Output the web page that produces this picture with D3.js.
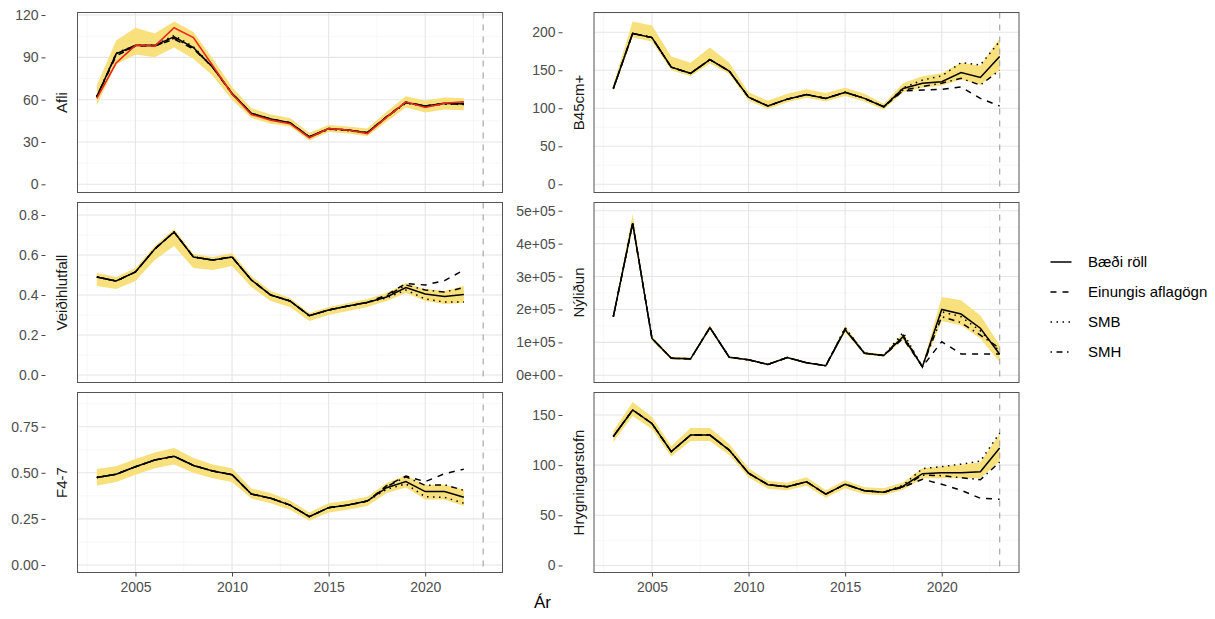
<!DOCTYPE html>
<html>
<head>
<meta charset="utf-8">
<script src="https://cdn.jsdelivr.net/npm/d3@7"></script>
<style>
  body { margin: 0; background: #fff; }
  svg { display: block; }
  text { font-family: "Liberation Sans", Arial, Helvetica, sans-serif; }
</style>
</head>
<body>
<svg id="chart" width="1215" height="619"></svg>
<script>
// ---- years ----
const yearsA = [2003, 2004, 2005, 2006, 2007, 2008, 2009, 2010, 2011, 2012, 2013, 2014, 2015, 2016, 2017, 2018, 2019, 2020, 2021, 2022];
const yearsB = [2003, 2004, 2005, 2006, 2007, 2008, 2009, 2010, 2011, 2012, 2013, 2014, 2015, 2016, 2017, 2018, 2019, 2020, 2021, 2022, 2023];

// ---- Afli (catch) ----
const afliBaedi    = [62, 92.5, 98.5, 98.5, 104.5, 97, 83, 64.5, 50.3, 46.3, 43.7, 33.7, 39.5, 38.5, 36.6, 47.9, 58, 55.5, 57.5, 57];
const afliEinungis = [62, 91, 98, 98, 103, 96, 83, 64.5, 50.3, 46.3, 43.7, 33.7, 39.5, 38.5, 36.6, 48, 58.5, 55.5, 57.5, 57.5];
const afliSMB      = [62, 93, 98.5, 98.5, 105.5, 97.5, 83, 64.5, 50, 46, 43.5, 33.5, 39, 38, 36.5, 47.5, 57.5, 55, 57, 56.5];
const afliSMH      = [62.5, 92, 98, 98, 103.5, 96.5, 83, 64, 50, 46, 43.5, 33.5, 39, 38.5, 36.5, 47.5, 58, 55.5, 57, 57];
const afliLo       = [56, 85, 92, 90, 97, 89, 77, 60, 47, 43, 41, 31, 37, 36, 34, 44.5, 54.5, 51, 53, 52.5];
const afliHi       = [70, 102, 111, 107, 115.5, 108, 89, 69, 54, 49.5, 47, 36.5, 42, 41, 39.5, 51.5, 62.5, 59.5, 61.5, 61];
const afliObserved = [61, 86, 98.5, 98, 111, 104, 84, 64, 49.5, 45.5, 43, 33, 39.5, 38.5, 36, 47.5, 58.5, 54.5, 57.5, 58.5];

// ---- B45cm+ ----
const b45Baedi    = [126, 198.5, 193, 154, 146, 164, 149, 114.5, 103, 112, 118, 113, 121, 113, 102, 126, 133, 135, 147, 140.5, 168];
const b45Einungis = [126, 198.5, 193, 154, 146, 164, 149, 114.5, 103, 112, 118, 113, 121, 113, 102, 123, 124, 125, 128, 113, 103];
const b45SMB      = [126, 198.5, 193, 154, 146, 164, 149, 114.5, 103, 112, 118, 113, 121, 113, 102, 127, 137, 142.5, 160, 157, 188];
const b45SMH      = [126, 198.5, 193, 154, 146, 164, 149, 114.5, 103, 112, 118, 113, 121, 113, 102, 124, 128.5, 133, 139.5, 130.5, 150];
const b45Lo       = [123, 193, 188, 150, 142, 159, 145, 110, 99, 108, 114, 109, 116, 109, 98, 121, 127, 130, 138, 131, 150];
const b45Hi       = [131, 214, 209, 168, 160, 180, 160, 121, 110, 119, 125, 120, 127, 119, 106, 133, 142, 146, 160, 156, 192];

// ---- Veiðihlutfall ----
const vhBaedi    = [0.49, 0.47, 0.515, 0.63, 0.715, 0.59, 0.575, 0.59, 0.475, 0.40, 0.37, 0.297, 0.325, 0.345, 0.363, 0.39, 0.437, 0.405, 0.393, 0.403];
const vhEinungis = [0.49, 0.47, 0.515, 0.63, 0.715, 0.59, 0.575, 0.59, 0.475, 0.40, 0.37, 0.297, 0.325, 0.345, 0.363, 0.40, 0.458, 0.45, 0.472, 0.525];
const vhSMB      = [0.49, 0.47, 0.515, 0.63, 0.715, 0.59, 0.575, 0.59, 0.475, 0.40, 0.37, 0.297, 0.325, 0.345, 0.363, 0.385, 0.425, 0.38, 0.365, 0.365];
const vhSMH      = [0.49, 0.47, 0.515, 0.63, 0.715, 0.59, 0.575, 0.59, 0.475, 0.40, 0.37, 0.297, 0.325, 0.345, 0.363, 0.395, 0.45, 0.425, 0.415, 0.437];
const vhLo       = [0.445, 0.43, 0.47, 0.575, 0.645, 0.535, 0.525, 0.545, 0.44, 0.37, 0.34, 0.27, 0.30, 0.32, 0.34, 0.37, 0.41, 0.37, 0.355, 0.36];
const vhHi       = [0.51, 0.49, 0.535, 0.645, 0.73, 0.605, 0.59, 0.61, 0.495, 0.42, 0.385, 0.31, 0.34, 0.36, 0.38, 0.41, 0.46, 0.43, 0.42, 0.445];

// ---- Nýliðun (recruitment) ----
const nyBaedi    = [178e3, 462e3, 112e3, 52e3, 50e3, 145e3, 55e3, 47e3, 33e3, 54e3, 38e3, 29e3, 138e3, 67e3, 60e3, 117e3, 26e3, 200e3, 186e3, 143e3, 64e3];
const nyEinungis = [178e3, 462e3, 112e3, 52e3, 50e3, 145e3, 55e3, 47e3, 33e3, 54e3, 38e3, 29e3, 140e3, 67e3, 60e3, 112e3, 26e3, 102e3, 65e3, 65e3, 65e3];
const nySMB      = [178e3, 462e3, 112e3, 52e3, 50e3, 145e3, 55e3, 47e3, 33e3, 54e3, 38e3, 29e3, 145e3, 67e3, 60e3, 130e3, 26e3, 193e3, 178e3, 135e3, 72e3];
const nySMH      = [178e3, 462e3, 112e3, 52e3, 50e3, 145e3, 55e3, 47e3, 33e3, 54e3, 38e3, 29e3, 142e3, 67e3, 60e3, 122e3, 26e3, 178e3, 160e3, 122e3, 82e3];
const nyLo       = [172e3, 445e3, 105e3, 48e3, 46e3, 138e3, 52e3, 44e3, 31e3, 51e3, 36e3, 27e3, 130e3, 63e3, 56e3, 108e3, 22e3, 165e3, 152e3, 112e3, 40e3];
const nyHi       = [184e3, 490e3, 118e3, 56e3, 54e3, 152e3, 58e3, 50e3, 35e3, 57e3, 40e3, 31e3, 150e3, 71e3, 64e3, 128e3, 30e3, 238e3, 228e3, 182e3, 92e3];

// ---- F4-7 ----
const fBaedi    = [0.474, 0.492, 0.533, 0.569, 0.59, 0.54, 0.51, 0.49, 0.385, 0.362, 0.325, 0.262, 0.311, 0.325, 0.347, 0.419, 0.452, 0.398, 0.398, 0.367];
const fEinungis = [0.474, 0.492, 0.533, 0.569, 0.59, 0.54, 0.51, 0.49, 0.385, 0.362, 0.325, 0.262, 0.311, 0.325, 0.347, 0.43, 0.482, 0.452, 0.495, 0.52];
const fSMB      = [0.474, 0.492, 0.533, 0.569, 0.59, 0.54, 0.51, 0.49, 0.385, 0.362, 0.325, 0.262, 0.311, 0.325, 0.347, 0.41, 0.44, 0.37, 0.367, 0.335];
const fSMH      = [0.474, 0.492, 0.533, 0.569, 0.59, 0.54, 0.51, 0.49, 0.385, 0.362, 0.325, 0.262, 0.311, 0.325, 0.347, 0.425, 0.478, 0.432, 0.435, 0.405];
const fLo       = [0.43, 0.45, 0.49, 0.525, 0.545, 0.5, 0.47, 0.45, 0.36, 0.335, 0.3, 0.24, 0.285, 0.3, 0.32, 0.39, 0.42, 0.355, 0.355, 0.32];
const fHi       = [0.52, 0.535, 0.575, 0.61, 0.635, 0.58, 0.545, 0.525, 0.415, 0.39, 0.35, 0.285, 0.335, 0.35, 0.37, 0.445, 0.485, 0.435, 0.435, 0.41];

// ---- Hrygningarstofn (spawning stock) ----
const hsBaedi    = [128.5, 155, 141.5, 113.5, 130, 130, 115, 92, 80.5, 78.5, 83.5, 71, 81, 74.5, 73, 79, 91.5, 92.5, 92.5, 93.5, 117];
const hsEinungis = [128.5, 155, 141.5, 113.5, 130, 130, 115, 92, 80.5, 78.5, 83.5, 71, 81, 74.5, 73, 78, 86, 81, 75, 67, 66];
const hsSMB      = [128.5, 155, 141.5, 113.5, 130, 130, 115, 92, 80.5, 78.5, 83.5, 71, 81, 74.5, 73, 80, 96.5, 98.5, 101, 104, 132];
const hsSMH      = [128.5, 155, 141.5, 113.5, 130, 130, 115, 92, 80.5, 78.5, 83.5, 71, 81, 74.5, 73, 78.5, 90, 89.5, 87.5, 85.5, 103];
const hsLo       = [123, 149, 136, 108.5, 124, 124, 110, 88, 76.5, 75, 79.5, 67.5, 77, 71, 70, 75.5, 87, 87, 87, 87, 104];
const hsHi       = [134, 163, 148, 119, 137, 137, 121, 97, 84.5, 82.5, 88, 75, 85, 78, 77, 83, 97, 99, 100.5, 103, 131];

// ---- tick values and labels ----
const xTicks = [2005, 2010, 2015, 2020];
const xTickLabels = ["2005", "2010", "2015", "2020"];
const afliTicks = [0, 30, 60, 90, 120];
const afliTickLabels = ["0", "30", "60", "90", "120"];
const b45Ticks = [0, 50, 100, 150, 200];
const b45TickLabels = ["0", "50", "100", "150", "200"];
const vhTicks = [0, 0.2, 0.4, 0.6, 0.8];
const vhTickLabels = ["0.0", "0.2", "0.4", "0.6", "0.8"];
const nyTicks = [0, 1e5, 2e5, 3e5, 4e5, 5e5];
const nyTickLabels = ["0e+00", "1e+05", "2e+05", "3e+05", "4e+05", "5e+05"];
const fTicks = [0, 0.25, 0.5, 0.75];
const fTickLabels = ["0.00", "0.25", "0.50", "0.75"];
const hsTicks = [0, 50, 100, 150];
const hsTickLabels = ["0", "50", "100", "150"];

const seriesNames = ["Bæði röll", "Einungis aflagögn", "SMB", "SMH"];
const refYear = 2023;

// ---- layout ----
const svg = d3.select("#chart");
const cols = [{ x0: 77.5, x1: 502.5, axisX: 45.5 }, { x0: 594, x1: 1019, axisX: 562.5 }];
const rows = [{ y0: 12.5, y1: 192.5 }, { y0: 202.5, y1: 382.5 }, { y0: 392.5, y1: 572.5 }];
const xDomain = [2002, 2024];

const lw = 1.5;
const dashOf = {
  "Bæði röll": null,
  "Einungis aflagögn": [4 * lw, 4 * lw].join(","),
  "SMB": [lw, 3 * lw].join(","),
  "SMH": [lw, 3 * lw, 4 * lw, 3 * lw].join(",")
};
const ribbonFill = "#f8e07c";
const gridMajor = "#e6e6e6";
const gridMinor = "#f1f1f1";
const borderCol = "#555";

const panels = [
  { col: 0, row: 0, label: "Afli", years: yearsA, lo: afliLo, hi: afliHi,
    lines: [afliBaedi, afliEinungis, afliSMB, afliSMH], observed: afliObserved,
    domain: [-5.8, 121.8], ticks: afliTicks, tickLabels: afliTickLabels },
  { col: 0, row: 1, label: "Veiðihlutfall", years: yearsA, lo: vhLo, hi: vhHi,
    lines: [vhBaedi, vhEinungis, vhSMB, vhSMH],
    domain: [-0.0375, 0.8625], ticks: vhTicks, tickLabels: vhTickLabels },
  { col: 0, row: 2, label: "F4-7", years: yearsA, lo: fLo, hi: fHi,
    lines: [fBaedi, fEinungis, fSMB, fSMH],
    domain: [-0.0407, 0.9355], ticks: fTicks, tickLabels: fTickLabels },
  { col: 1, row: 0, label: "B45cm+", years: yearsB, lo: b45Lo, hi: b45Hi,
    lines: [b45Baedi, b45Einungis, b45SMB, b45SMH],
    domain: [-10.8, 226], ticks: b45Ticks, tickLabels: b45TickLabels },
  { col: 1, row: 1, label: "Nýliðun", years: yearsB, lo: nyLo, hi: nyHi,
    lines: [nyBaedi, nyEinungis, nySMB, nySMH],
    domain: [-21900, 524900], ticks: nyTicks, tickLabels: nyTickLabels },
  { col: 1, row: 2, label: "Hrygningarstofn", years: yearsB, lo: hsLo, hi: hsHi,
    lines: [hsBaedi, hsEinungis, hsSMB, hsSMH],
    domain: [-7, 172.4], ticks: hsTicks, tickLabels: hsTickLabels }
];

// minor breaks half-way between majors, kept inside the visible range
function minorBreaks(ticks, domain) {
  const step = ticks[1] - ticks[0];
  const out = [];
  for (let v = ticks[0] - step / 2; v <= ticks[ticks.length - 1] + step; v += step) {
    if (v > domain[0] && v < domain[1]) out.push(v);
  }
  return out;
}

const defs = svg.append("defs");

panels.forEach((p, pi) => {
  const c = cols[p.col], r = rows[p.row];
  const x = d3.scaleLinear().domain(xDomain).range([c.x0, c.x1]);
  const y = d3.scaleLinear().domain(p.domain).range([r.y1, r.y0]);
  const g = svg.append("g");

  defs.append("clipPath").attr("id", "clip" + pi)
    .append("rect").attr("x", c.x0).attr("y", r.y0)
    .attr("width", c.x1 - c.x0).attr("height", r.y1 - r.y0);

  g.append("rect").attr("x", c.x0).attr("y", r.y0)
    .attr("width", c.x1 - c.x0).attr("height", r.y1 - r.y0).attr("fill", "#fff");

  // grid
  const grid = g.append("g");
  const xMinor = minorBreaks(xTicks, xDomain);
  const yMinor = minorBreaks(p.ticks, p.domain);
  grid.selectAll(".ymin").data(yMinor).join("line")
    .attr("x1", c.x0).attr("x2", c.x1).attr("y1", d => y(d)).attr("y2", d => y(d))
    .attr("stroke", gridMinor).attr("stroke-width", 0.6);
  grid.selectAll(".xmin").data(xMinor).join("line")
    .attr("y1", r.y0).attr("y2", r.y1).attr("x1", d => x(d)).attr("x2", d => x(d))
    .attr("stroke", gridMinor).attr("stroke-width", 0.6);
  grid.selectAll(".ymaj").data(p.ticks).join("line")
    .attr("x1", c.x0).attr("x2", c.x1).attr("y1", d => y(d)).attr("y2", d => y(d))
    .attr("stroke", gridMajor).attr("stroke-width", 1.1);
  grid.selectAll(".xmaj").data(xTicks).join("line")
    .attr("y1", r.y0).attr("y2", r.y1).attr("x1", d => x(d)).attr("x2", d => x(d))
    .attr("stroke", gridMajor).attr("stroke-width", 1.1);

  const plot = g.append("g").attr("clip-path", `url(#clip${pi})`);

  // confidence band
  const area = d3.area()
    .x((d, i) => x(p.years[i]))
    .y0((d, i) => y(p.lo[i]))
    .y1((d, i) => y(p.hi[i]));
  plot.append("path").datum(p.lo).attr("d", area).attr("fill", ribbonFill);

  // reference year
  plot.append("line")
    .attr("x1", x(refYear)).attr("x2", x(refYear)).attr("y1", r.y0).attr("y2", r.y1)
    .attr("stroke", "#a8a8a8").attr("stroke-width", 1.2).attr("stroke-dasharray", "6,6");

  // model runs
  const line = d3.line().x((d, i) => x(p.years[i])).y(d => y(d));
  p.lines.forEach((vals, si) => {
    plot.append("path").datum(vals).attr("d", line)
      .attr("fill", "none").attr("stroke", "#000").attr("stroke-width", lw)
      .attr("stroke-dasharray", dashOf[seriesNames[si]]);
  });
  if (p.observed) {
    plot.append("path").datum(p.observed).attr("d", line)
      .attr("fill", "none").attr("stroke", "#e8281c").attr("stroke-width", 1.6);
  }

  // panel border
  g.append("rect").attr("x", c.x0).attr("y", r.y0)
    .attr("width", c.x1 - c.x0).attr("height", r.y1 - r.y0)
    .attr("fill", "none").attr("stroke", borderCol).attr("stroke-width", 1);

  // y axis
  const ya = g.append("g").attr("transform", `translate(${c.axisX},0)`)
    .call(d3.axisLeft(y).tickValues(p.ticks).tickFormat((d, i) => p.tickLabels[i])
      .tickSize(4).tickPadding(3));
  ya.select(".domain").remove();
  ya.selectAll(".tick line").attr("stroke", "#444").attr("stroke-width", 1);
  ya.selectAll(".tick text").attr("fill", "#4d4d4d").style("font-size", "14px")
    .style("font-family", '"Liberation Sans", Arial, sans-serif');

  // strip label
  g.append("text")
    .attr("transform", `translate(${c.x0 - 10.5},${(r.y0 + r.y1) / 2}) rotate(-90)`)
    .attr("text-anchor", "middle").attr("fill", "#1a1a1a").style("font-size", "15px")
    .text(p.label);

  // x axis on the bottom row
  if (p.row === 2) {
    const xa = g.append("g").attr("transform", `translate(0,${r.y1})`)
      .call(d3.axisBottom(x).tickValues(xTicks).tickFormat((d, i) => xTickLabels[i])
        .tickSize(4).tickPadding(6));
    xa.select(".domain").remove();
    xa.selectAll(".tick line").attr("stroke", "#444").attr("stroke-width", 1);
    xa.selectAll(".tick text").attr("fill", "#4d4d4d").style("font-size", "14px")
      .style("font-family", '"Liberation Sans", Arial, sans-serif');
  }
});

// x axis title
svg.append("text").attr("x", 542.5).attr("y", 608).attr("text-anchor", "middle")
  .attr("fill", "#000").style("font-size", "17px").text("Ár");

// legend
const legY = [262, 292, 322, 352];
const leg = svg.append("g");
seriesNames.forEach((name, i) => {
  leg.append("line").attr("x1", 1050.5).attr("x2", 1071.5)
    .attr("y1", legY[i]).attr("y2", legY[i])
    .attr("stroke", "#000").attr("stroke-width", lw)
    .attr("stroke-dasharray", dashOf[name]);
  leg.append("text").attr("x", 1088).attr("y", legY[i]).attr("dy", "0.35em")
    .attr("fill", "#000").style("font-size", "15px").text(name);
});
</script>
</body>
</html>
